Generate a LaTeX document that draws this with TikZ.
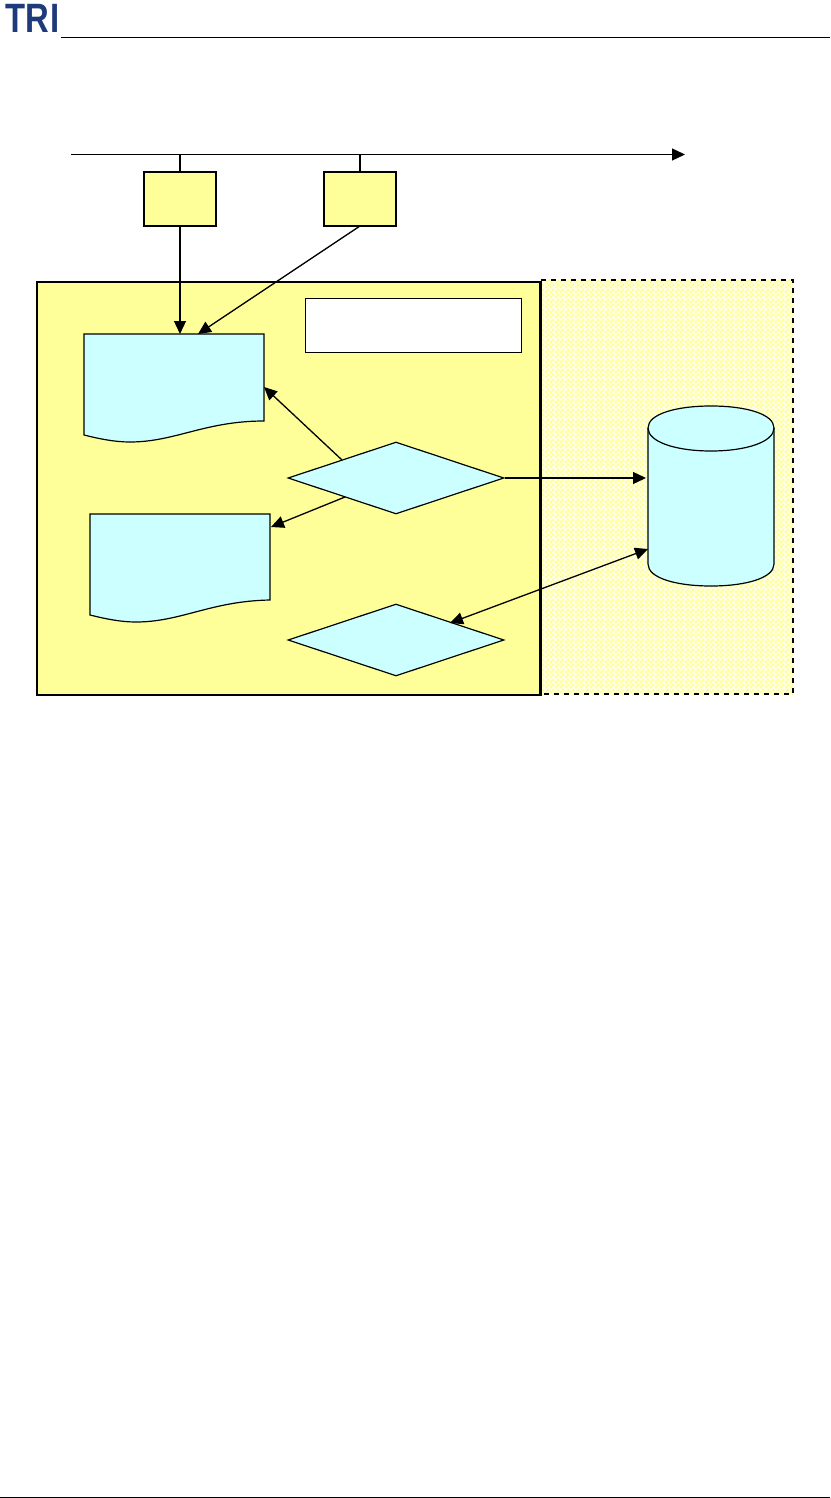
\documentclass[tikz,border=0pt]{standalone}
\usepackage{fontspec}
\setmainfont{Liberation Sans}
\usetikzlibrary{shapes.geometric,arrows.meta,patterns}
\definecolor{paleyellow}{HTML}{FFFF99}
\definecolor{dithertint}{HTML}{FFFFE0}
\definecolor{paleblue}{HTML}{CCFFFF}
\definecolor{logoblue}{HTML}{1F3A7A}
\pgfdeclarepatternformonly{ditherpat}{\pgfpointorigin}{\pgfqpoint{5pt}{5pt}}{\pgfqpoint{5pt}{5pt}}{%
  \pgfpathrectangle{\pgfqpoint{0pt}{0pt}}{\pgfqpoint{2.5pt}{2.5pt}}%
  \pgfpathrectangle{\pgfqpoint{2.5pt}{2.5pt}}{\pgfqpoint{2.5pt}{2.5pt}}%
  \pgfusepath{fill}}
\tikzset{
  x=1pt,y=-1pt,
  ln/.style={draw=black,line width=1.2pt},
  conn/.style={draw=black,line width=1.3pt,-{Triangle[length=13pt,width=12pt]}},
  biconn/.style={draw=black,line width=1.3pt,{Triangle[length=13pt,width=12pt]}-{Triangle[length=13pt,width=12pt]}},
  yellowbox/.style={ln,line width=1.4pt,fill=paleyellow,rectangle,inner sep=0pt,minimum width=72pt,minimum height=54pt},
  decision/.style={ln,fill=paleblue,diamond,inner sep=0pt,minimum width=216pt,minimum height=72pt,aspect=3},
  docshape/.style={ln,fill=paleblue}
}
\begin{document}
\begin{tikzpicture}
\useasboundingbox (0,0) rectangle (830,1498);
% header and footer
\node[anchor=west,inner sep=0pt,text=logoblue,xscale=0.8,font=\bfseries\addfontfeatures{LetterSpace=2}\fontsize{41}{41}\selectfont] (logo) at (5,18) {TRI};
\coordinate (hl) at (61,37.5); \coordinate (hr) at (830,37.5);
\draw[line width=1pt] (hl) -- (hr);
\coordinate (fl) at (0,1497.5); \coordinate (fr) at (830,1497.5);
\draw[line width=1pt] (fl) -- (fr);
% hatched region
\fill[dithertint] (541,280) rectangle (793,694);
\fill[pattern=ditherpat,pattern color=paleyellow] (541,280) rectangle (793,694);
\draw[line width=1.2pt,dash pattern=on 5pt off 5pt] (541,280) -- (793,280) -- (793,694) -- (541,694);
% main region
\node[draw=black,line width=1.5pt,fill=paleyellow,rectangle,inner sep=0pt,minimum width=504pt,minimum height=413pt,anchor=north west] (main) at (36,281) {};
\coordinate (mr1) at (540,281); \coordinate (mr2) at (540,694);
\draw[line width=2pt] (mr1) -- (mr2);
\node[ln,fill=white,rectangle,inner sep=0pt,minimum width=216pt,minimum height=53.5pt,anchor=north west] (note) at (305,298) {};
% timeline
\coordinate (tl) at (71,154.5); \coordinate (tr) at (685,154.5);
\draw[conn] (tl) -- (tr);
\node[yellowbox] (b1) at (180,199) {};
\node[yellowbox] (b2) at (360,199) {};
\coordinate (t1) at (180,154.5); \coordinate (t2) at (360,154.5);
\draw[ln] (t1) -- (b1.north);
\draw[ln] (t2) -- (b2.north);
% documents
\draw[docshape] (84,334) -- (264,334) -- (264,421) .. controls (205,421) and (175,442) .. (130,442) .. controls (115,442) and (100,439) .. (84,435) -- cycle;
\coordinate (d1top) at (180,334); \coordinate (d1tb) at (198,334); \coordinate (d1r) at (264,387);
\draw[docshape] (90,514) -- (270,514) -- (270,600) .. controls (211,601) and (181,622) .. (136,622) .. controls (121,622) and (106,619) .. (90,615) -- cycle;
\coordinate (d2r) at (271,527);
% diamonds
\node[decision] (q1) at (396,478) {};
\node[decision] (q2) at (396,640) {};
% cylinder
\draw[docshape] (648,428) -- (648,564) .. controls (648,578) and (676,586) .. (711,586) .. controls (746,586) and (774,578) .. (774,564) -- (774,428) .. controls (774,414) and (746,406) .. (711,406) .. controls (676,406) and (648,414) .. (648,428) -- cycle;
\draw[ln] (648,428) .. controls (648,442) and (676,451) .. (711,451) .. controls (746,451) and (774,442) .. (774,428);
\coordinate (c1) at (646,478); \coordinate (c2) at (648,549);
% connectors
\draw[conn] (b1.south) -- (d1top);
\coordinate (b2s) at (360,226);
\draw[conn] (b2s) -- (d1tb);
\coordinate (q1a) at (342,460); \coordinate (q1b) at (345,497); \coordinate (q2a) at (450,623);
\draw[conn] (q1a) -- (d1r);
\draw[conn] (q1b) -- (d2r);
\draw[conn] (q1.east) -- (c1);
\draw[biconn] (q2a) -- (c2);
\end{tikzpicture}
\end{document}
